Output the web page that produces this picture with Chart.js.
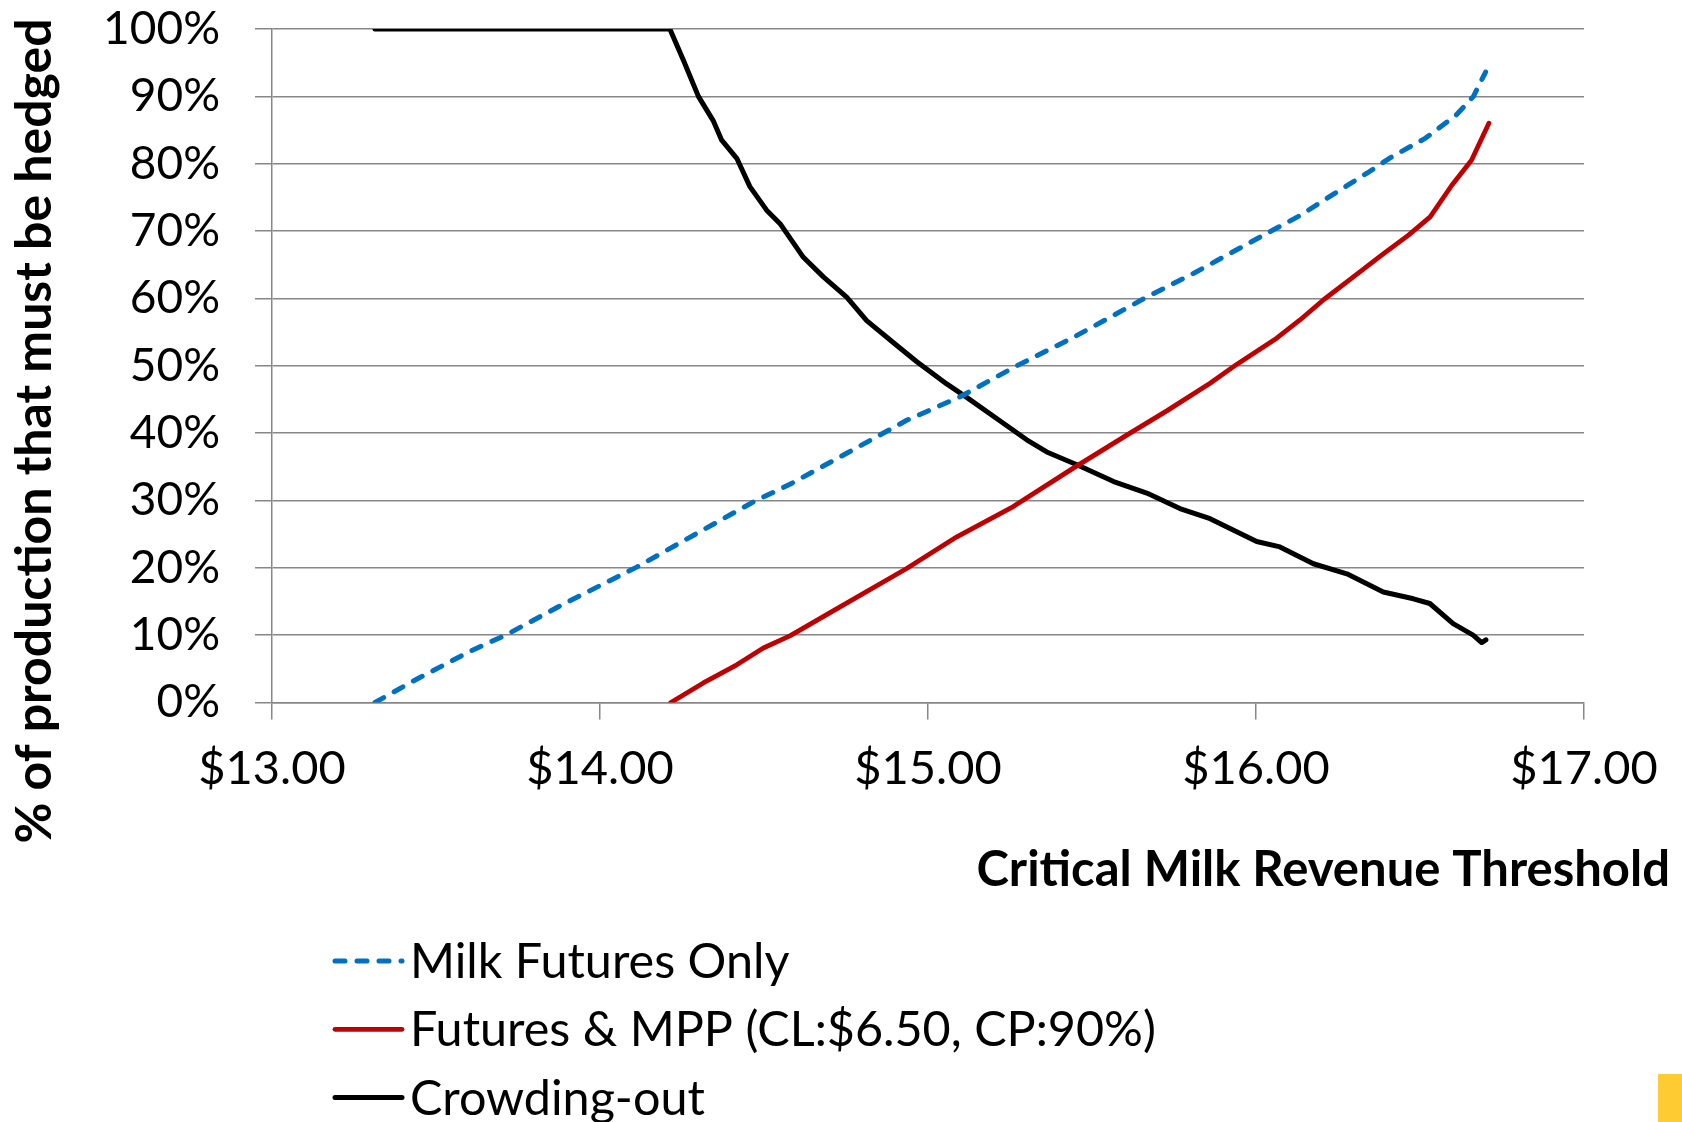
<!DOCTYPE html>
<html><head><meta charset="utf-8">
<script src="https://cdn.jsdelivr.net/npm/chart.js@4.4.1/dist/chart.umd.min.js"></script>
<style>
html,body{margin:0;padding:0;background:#fff;overflow:hidden}
#wrap{position:relative;width:1682px;height:1122px}
#c{display:block}
#mark{position:absolute;left:1658px;top:1074px;width:24px;height:48px;background:#FECB32}
</style></head><body>
<div id="wrap"><canvas id="c" width="1682" height="1122"></canvas><div id="mark"></div></div>
<script>
// ---- data ----
const xTickValues = [13, 14, 15, 16, 17];
const yTickValues = [0, 10, 20, 30, 40, 50, 60, 70, 80, 90, 100];
const xTitle = 'Critical Milk Revenue Threshold';
const yTitle = '% of production that must be hedged';
const seriesLabels = ['Milk Futures Only', 'Futures & MPP (CL:$6.50, CP:90%)', 'Crowding-out'];

const futuresX = [13.314, 13.431, 13.604, 13.716, 13.888, 14.010, 14.112, 14.295, 14.468, 14.579, 14.752, 14.935, 15.098, 15.271, 15.443, 15.667, 15.809, 16.012, 16.134, 16.240, 16.345, 16.410, 16.517, 16.610, 16.663, 16.700];
const futuresY = [0, 3.2, 7.6, 10.1, 14.6, 17.6, 20.1, 25.1, 29.8, 32.4, 37.0, 41.9, 45.4, 50.0, 54.2, 60.2, 63.7, 69.1, 72.3, 75.6, 78.8, 80.9, 83.8, 87.2, 90.0, 93.6];

const mppX = [14.216, 14.315, 14.417, 14.498, 14.579, 14.732, 14.935, 15.088, 15.260, 15.443, 15.616, 15.728, 15.860, 15.941, 16.063, 16.134, 16.206, 16.292, 16.385, 16.465, 16.531, 16.597, 16.657, 16.710];
const mppY = [0, 2.9, 5.6, 8.1, 9.9, 14.2, 19.9, 24.6, 29.1, 34.8, 40.0, 43.3, 47.4, 50.2, 54.1, 56.8, 59.8, 63.0, 66.5, 69.4, 72.1, 76.8, 80.5, 86.0];

const crowdX = [13.314, 14.213, 14.254, 14.300, 14.345, 14.371, 14.417, 14.457, 14.508, 14.549, 14.620, 14.681, 14.752, 14.813, 14.905, 14.966, 15.057, 15.118, 15.220, 15.301, 15.362, 15.454, 15.566, 15.667, 15.768, 15.860, 16.002, 16.073, 16.175, 16.277, 16.388, 16.480, 16.530, 16.601, 16.662, 16.688, 16.701];
const crowdY = [100, 100, 95.4, 90.0, 86.4, 83.5, 80.8, 76.6, 73.1, 71.1, 66.1, 63.2, 60.2, 56.7, 53.0, 50.6, 47.3, 45.3, 41.8, 39.0, 37.2, 35.3, 32.8, 31.1, 28.8, 27.3, 23.9, 23.1, 20.6, 19.1, 16.4, 15.4, 14.7, 11.7, 10.0, 8.9, 9.3];

// ---- chart ----
const zip = (xs, ys) => xs.map((x, i) => ({ x: x, y: ys[i] }));
const GRID = '#878787';
const X_TITLE_FONT = 'bold 49px Lato';
const Y_TITLE_FONT = 'bold 50px Lato';
const LEGEND_FONT = '48.5px Lato';

Chart.defaults.font.family = 'Lato';
Chart.defaults.color = '#000';

const overlay = {
  id: 'overlay',
  afterDraw(chart) {
    const ctx = chart.ctx;
    ctx.save();
    ctx.fillStyle = '#000';
    // y axis title
    ctx.save();
    ctx.font = Y_TITLE_FONT;
    ctx.translate(35, 431);
    ctx.rotate(-Math.PI / 2);
    ctx.textAlign = 'center';
    ctx.textBaseline = 'middle';
    ctx.fillText(yTitle, 0, 0);
    ctx.restore();
    // x axis title
    ctx.font = X_TITLE_FONT;
    ctx.textAlign = 'right';
    ctx.textBaseline = 'alphabetic';
    ctx.fillText(xTitle, 1670, 886);
    // legend
    chart.data.datasets.forEach((ds, i) => {
      const cy = 961 + i * 68.3;
      ctx.save();
      ctx.strokeStyle = ds.borderColor;
      ctx.lineWidth = ds.borderWidth;
      ctx.lineCap = 'round';
      ctx.setLineDash(ds.borderDash || []);
      ctx.beginPath();
      ctx.moveTo(335, cy);
      ctx.lineTo(402, cy);
      ctx.stroke();
      ctx.restore();
      ctx.font = LEGEND_FONT;
      ctx.textAlign = 'left';
      ctx.textBaseline = 'alphabetic';
      ctx.fillText(ds.label, 410, cy + 17);
    });
    ctx.restore();
  }
};

new Chart(document.getElementById('c'), {
  type: 'line',
  data: {
    datasets: [
      { label: seriesLabels[0], data: zip(futuresX, futuresY), borderColor: '#0070C0', borderWidth: 5, borderDash: [10, 12], borderCapStyle: 'round', borderJoinStyle: 'round', pointRadius: 0, tension: 0, fill: false },
      { label: seriesLabels[1], data: zip(mppX, mppY), borderColor: '#C00000', borderWidth: 4.8, borderCapStyle: 'round', borderJoinStyle: 'round', pointRadius: 0, tension: 0, fill: false },
      { label: seriesLabels[2], data: zip(crowdX, crowdY), borderColor: '#000000', borderWidth: 5, borderCapStyle: 'round', borderJoinStyle: 'round', pointRadius: 0, tension: 0, fill: false }
    ]
  },
  options: {
    responsive: false,
    animation: false,
    devicePixelRatio: 1,
    layout: { padding: { left: 0, right: 98, top: 29, bottom: 0 } },
    plugins: { legend: { display: false }, tooltip: { enabled: false }, title: { display: false } },
    scales: {
      x: {
        type: 'linear',
        min: xTickValues[0],
        max: xTickValues[xTickValues.length - 1],
        afterBuildTicks: (s) => { s.ticks = xTickValues.map(v => ({ value: v })); },
        afterFit: (s) => { s.height = 419.5; },
        ticks: {
          callback: (v) => '$' + Number(v).toFixed(2),
          font: { size: 47 },
          color: '#000',
          padding: 21,
          maxRotation: 0,
          autoSkip: false
        },
        grid: { drawOnChartArea: false, drawTicks: true, tickLength: 17, color: GRID, lineWidth: 1.5 },
        border: { display: true, color: GRID, width: 1.5 }
      },
      y: {
        min: yTickValues[0],
        max: yTickValues[yTickValues.length - 1],
        afterBuildTicks: (s) => { s.ticks = yTickValues.map(v => ({ value: v })); },
        afterFit: (s) => { s.width = 272; s.paddingTop = 0; s.paddingBottom = 0; },
        ticks: {
          callback: (v) => v + '%',
          font: { size: 46 },
          color: '#000',
          padding: 35,
          autoSkip: false
        },
        grid: { drawOnChartArea: true, drawTicks: true, tickLength: 17, color: GRID, lineWidth: 1.5 },
        border: { display: true, color: GRID, width: 1.5 }
      }
    }
  },
  plugins: [overlay]
});
</script>
</body></html>
